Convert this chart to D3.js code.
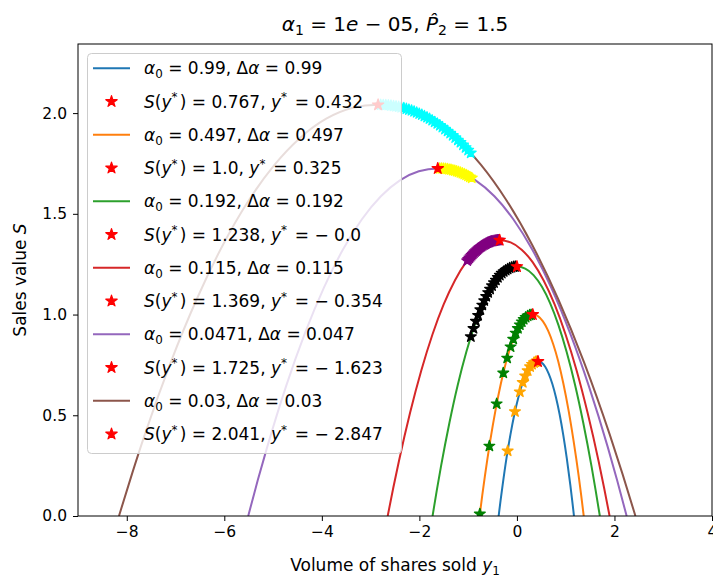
<!DOCTYPE html>
<html>
<head>
<meta charset="utf-8">
<script src="https://cdn.jsdelivr.net/npm/d3@7"></script>
<style>
  body { margin: 0; background: #fff; }
  svg { display: block; font-family: "DejaVu Sans", sans-serif; }
</style>
</head>
<body>
<svg id="chart" width="713" height="583"></svg>
<script>
// ---- data -----------------------------------------------------------------
// Sales value S against volume of shares sold y1, one curve per alpha setting.
const alpha0 = [0.99, 0.497, 0.192, 0.115, 0.0471, 0.03];
const deltaAlpha = [0.99, 0.497, 0.192, 0.115, 0.047, 0.03];
// optimum of each curve: S(y*) and y*
const optimumS = [0.767, 1.0, 1.238, 1.369, 1.725, 2.041];
const optimumY = [0.432, 0.325, -0.0, -0.354, -1.623, -2.847];

const curveBlue = [[-0.375,0],[-0.335,0.078],[-0.294,0.152],[-0.214,0.287],[-0.133,0.404],[-0.052,0.505],[0.029,0.588],[0.109,0.655],[0.190,0.706],[0.271,0.741],[0.351,0.761],[0.432,0.767],[0.506,0.761],[0.580,0.741],[0.653,0.706],[0.727,0.655],[0.801,0.588],[0.875,0.505],[0.949,0.404],[1.022,0.287],[1.096,0.152],[1.133,0.078],[1.170,0]];
const curveOrange = [[-0.765,0],[-0.711,0.102],[-0.656,0.199],[-0.547,0.374],[-0.438,0.527],[-0.329,0.658],[-0.220,0.767],[-0.111,0.854],[-0.002,0.920],[0.107,0.966],[0.216,0.992],[0.325,1.0],[0.430,0.992],[0.534,0.966],[0.639,0.920],[0.743,0.854],[0.848,0.767],[0.952,0.658],[1.057,0.527],[1.161,0.374],[1.266,0.199],[1.318,0.102],[1.370,0]];
const curveGreen = [[-1.730,0],[-1.644,0.126],[-1.557,0.246],[-1.384,0.463],[-1.211,0.653],[-1.038,0.814],[-0.865,0.949],[-0.692,1.057],[-0.519,1.139],[-0.346,1.196],[-0.173,1.228],[0,1.238],[0.170,1.228],[0.340,1.196],[0.510,1.139],[0.680,1.057],[0.850,0.949],[1.020,0.814],[1.190,0.653],[1.360,0.463],[1.530,0.246],[1.615,0.126],[1.700,0]];
const curveRed = [[-2.650,0],[-2.535,0.140],[-2.420,0.272],[-2.191,0.512],[-1.961,0.722],[-1.732,0.901],[-1.502,1.050],[-1.272,1.169],[-1.043,1.260],[-0.813,1.322],[-0.584,1.358],[-0.354,1.369],[-0.129,1.358],[0.097,1.322],[0.322,1.260],[0.548,1.169],[0.773,1.050],[0.998,0.901],[1.224,0.722],[1.449,0.512],[1.675,0.272],[1.787,0.140],[1.900,0]];
const curvePurple = [[-5.510,0],[-5.316,0.176],[-5.121,0.342],[-4.733,0.645],[-4.344,0.909],[-3.955,1.135],[-3.567,1.323],[-3.178,1.473],[-2.789,1.587],[-2.400,1.666],[-2.012,1.711],[-1.623,1.725],[-1.236,1.711],[-0.848,1.666],[-0.461,1.587],[-0.074,1.473],[0.314,1.323],[0.701,1.135],[1.088,0.909],[1.475,0.645],[1.863,0.342],[2.056,0.176],[2.250,0]];
const curveBrown = [[-8.160,0],[-7.894,0.208],[-7.629,0.405],[-7.097,0.764],[-6.566,1.076],[-6.035,1.343],[-5.504,1.565],[-4.972,1.743],[-4.441,1.878],[-3.910,1.972],[-3.378,2.025],[-2.847,2.041],[-2.319,2.025],[-1.792,1.972],[-1.264,1.878],[-0.736,1.743],[-0.209,1.565],[0.319,1.343],[0.847,1.076],[1.375,0.764],[1.902,0.405],[2.166,0.208],[2.430,0]];

// iterates visited on the way to each optimum
const starsOrange = [[-0.19,0.323],[-0.04,0.518],[0.06,0.616],[0.12,0.663],[0.17,0.695],[0.22,0.721],[0.27,0.741],[0.31,0.753],[0.35,0.761],[0.38,0.765],[0.41,0.767]];
const starsGreen = [[-0.76,0.010],[-0.565,0.347],[-0.415,0.557],[-0.28,0.710],[-0.20,0.784],[-0.13,0.840],[-0.075,0.878],[-0.025,0.908],[0.02,0.931],[0.06,0.949],[0.10,0.964],[0.14,0.976],[0.18,0.986],[0.22,0.993],[0.26,0.997],[0.29,0.999]];
const starsBlack = [[-0.945,0.890],[-0.89,0.931],[-0.84,0.967],[-0.795,0.996],[-0.75,1.024],[-0.71,1.047],[-0.67,1.069],[-0.63,1.090],[-0.59,1.109],[-0.55,1.126],[-0.51,1.143],[-0.47,1.158],[-0.43,1.171],[-0.39,1.184],[-0.35,1.195],[-0.31,1.205],[-0.27,1.213],[-0.23,1.220],[-0.19,1.226],[-0.15,1.231],[-0.11,1.234],[-0.07,1.237],[-0.035,1.238]];
const starsPurple = [[-1.020,1.267],[-0.997,1.274],[-0.974,1.281],[-0.951,1.288],[-0.928,1.294],[-0.905,1.300],[-0.882,1.306],[-0.859,1.312],[-0.836,1.317],[-0.813,1.322],[-0.790,1.327],[-0.767,1.332],[-0.744,1.336],[-0.721,1.340],[-0.698,1.344],[-0.675,1.347],[-0.652,1.350],[-0.630,1.353],[-0.607,1.356],[-0.584,1.358],[-0.561,1.360],[-0.538,1.362],[-0.515,1.364],[-0.492,1.365],[-0.469,1.366],[-0.446,1.367],[-0.423,1.368],[-0.400,1.369],[-0.377,1.369]];
const starsYellow = [[-1.584,1.725],[-1.546,1.725],[-1.507,1.724],[-1.468,1.723],[-1.429,1.722],[-1.391,1.720],[-1.352,1.719],[-1.313,1.716],[-1.274,1.714],[-1.236,1.711],[-1.197,1.708],[-1.158,1.705],[-1.119,1.701],[-1.081,1.697],[-1.042,1.693],[-1.003,1.688],[-0.965,1.683],[-0.926,1.678]];
const starsCyan = [[-2.794,2.041],[-2.741,2.040],[-2.689,2.040],[-2.636,2.039],[-2.583,2.037],[-2.530,2.035],[-2.478,2.033],[-2.425,2.031],[-2.372,2.028],[-2.319,2.025],[-2.267,2.021],[-2.214,2.017],[-2.161,2.013],[-2.108,2.008],[-2.055,2.003],[-2.003,1.997],[-1.950,1.992],[-1.897,1.985],[-1.844,1.979],[-1.792,1.972],[-1.739,1.964],[-1.686,1.956],[-1.633,1.948],[-1.581,1.939],[-1.528,1.930],[-1.475,1.920],[-1.422,1.911],[-1.369,1.900],[-1.317,1.889],[-1.264,1.878],[-1.211,1.866],[-1.158,1.855],[-1.106,1.842],[-1.053,1.829],[-1.000,1.816],[-0.947,1.802]];

const xTicks = [-8, -6, -4, -2, 0, 2, 4];
const yTicks = [0.0, 0.5, 1.0, 1.5, 2.0];

const curves = [curveBlue, curveOrange, curveGreen, curveRed, curvePurple, curveBrown];
const iterates = [starsOrange, starsGreen, starsBlack, starsPurple, starsYellow, starsCyan];
const lineColors = ["#1f77b4", "#ff7f0e", "#2ca02c", "#d62728", "#9467bd", "#8c564b"];
const iterateColors = ["orange", "green", "black", "purple", "yellow", "cyan"];

// ---- layout ---------------------------------------------------------------
const svg = d3.select("#chart");
const plot = { left: 78, right: 712, top: 44, bottom: 516 };
const x = d3.scaleLinear().domain([-9, 4]).range([plot.left, plot.right]);
const y = d3.scaleLinear().domain([0, 2.343]).range([plot.bottom, plot.top]);
const TICK_FS = 15.5;   // tick labels
const LABEL_FS = 17;    // axis titles and legend
const TITLE_FS = 20;

svg.append("defs").append("clipPath").attr("id", "plotClip")
  .append("rect")
  .attr("x", plot.left).attr("y", plot.top)
  .attr("width", plot.right - plot.left).attr("height", plot.bottom - plot.top);

// mathtext-like label: segments of [text, kind] where kind is "", "i", "sub", "sup"
function mathText(textSel, segs, fs) {
  let shift = 0;
  segs.forEach(([str, kind]) => {
    const ts = textSel.append("tspan").text(str);
    let target = 0;
    if (kind === "sub") target = 0.22 * fs;
    if (kind === "sup") target = -0.38 * fs;
    if (target !== shift) { ts.attr("dy", target - shift); shift = target; }
    if (kind === "sub" || kind === "sup") ts.attr("font-size", 0.7 * fs);
    if (kind === "i") ts.attr("font-style", "italic");
  });
}

function fmtNum(v) {
  const neg = v < 0 || Object.is(v, -0);
  let s = String(Math.abs(v));
  if (!s.includes(".")) s += ".0";
  return neg ? "\u2212 " + s : s;
}

// ---- marks ----------------------------------------------------------------
const marks = svg.append("g").attr("clip-path", "url(#plotClip)");
const line = d3.line().x(d => x(d[0])).y(d => y(d[1])).curve(d3.curveMonotoneX);
const starSmall = d3.symbol().type(d3.symbolStar).size(36);
const starBig = d3.symbol().type(d3.symbolStar).size(40);

curves.forEach((c, i) => {
  marks.append("path").datum(c)
    .attr("d", line)
    .attr("fill", "none")
    .attr("stroke", lineColors[i])
    .attr("stroke-width", 2);

  marks.append("g").selectAll("path").data(iterates[i]).join("path")
    .attr("d", starSmall)
    .attr("transform", d => `translate(${x(d[0])},${y(d[1])})`)
    .attr("fill", iterateColors[i])
    .attr("stroke", iterateColors[i])
    .attr("stroke-width", 1.3)
    .attr("stroke-linejoin", "round");

  marks.append("path")
    .attr("d", starBig)
    .attr("transform", `translate(${x(optimumY[i])},${y(optimumS[i])})`)
    .attr("fill", "red")
    .attr("stroke", "red")
    .attr("stroke-width", 1.2)
    .attr("stroke-linejoin", "round");
});

// ---- axes -----------------------------------------------------------------
const xAxis = svg.append("g").attr("transform", `translate(0,${plot.bottom})`)
  .call(d3.axisBottom(x).tickValues(xTicks).tickFormat(d3.format("d")).tickSize(5).tickPadding(5));
const yAxis = svg.append("g").attr("transform", `translate(${plot.left},0)`)
  .call(d3.axisLeft(y).tickValues(yTicks).tickFormat(d3.format(".1f")).tickSize(5).tickPadding(6));
[xAxis, yAxis].forEach(a => {
  a.select(".domain").remove();
  a.selectAll("text").attr("font-size", TICK_FS).attr("fill", "#000")
    .attr("font-family", "DejaVu Sans");
  a.selectAll("line").attr("stroke", "#000").attr("stroke-width", 1);
});

svg.append("rect")
  .attr("x", plot.left).attr("y", plot.top)
  .attr("width", plot.right - plot.left).attr("height", plot.bottom - plot.top)
  .attr("fill", "none").attr("stroke", "#000").attr("stroke-width", 1);

// axis titles
mathText(svg.append("text").attr("x", 395).attr("y", 571)
  .attr("text-anchor", "middle").attr("font-size", LABEL_FS),
  [["Volume of shares sold ", ""], ["y", "i"], ["1", "sub"]], LABEL_FS);

mathText(svg.append("text").attr("transform", "translate(26,280) rotate(-90)")
  .attr("text-anchor", "middle").attr("font-size", LABEL_FS),
  [["Sales value ", ""], ["S", "i"]], LABEL_FS);

// chart title
mathText(svg.append("text").attr("x", 395).attr("y", 31)
  .attr("text-anchor", "middle").attr("font-size", TITLE_FS),
  [["\u03b1", "i"], ["1", "sub"], [" = 1", ""], ["e", "i"], [" \u2212 05, ", ""],
   ["P\u0302", "i"], ["2", "sub"], [" = 1.5", ""]], TITLE_FS);

// ---- legend ---------------------------------------------------------------
const legend = svg.append("g");
legend.append("rect")
  .attr("x", 87.5).attr("y", 53.5).attr("width", 314).attr("height", 400)
  .attr("rx", 4).attr("ry", 4)
  .attr("fill", "rgba(255,255,255,0.8)")
  .attr("stroke", "#cccccc").attr("stroke-width", 1);

const rowY = i => 68.3 + i * 33.25;
alpha0.forEach((a, i) => {
  const r1 = rowY(2 * i), r2 = rowY(2 * i + 1);
  legend.append("line")
    .attr("x1", 93).attr("x2", 130).attr("y1", r1).attr("y2", r1)
    .attr("stroke", lineColors[i]).attr("stroke-width", 2);
  mathText(legend.append("text").attr("x", 144).attr("y", r1 + 6).attr("font-size", LABEL_FS),
    [["\u03b1", "i"], ["0", "sub"], [" = " + a + ", \u0394", ""], ["\u03b1", "i"], [" = " + deltaAlpha[i], ""]], LABEL_FS);

  legend.append("path")
    .attr("d", starBig)
    .attr("transform", `translate(111.5,${r2})`)
    .attr("fill", "red").attr("stroke", "red").attr("stroke-width", 1.2)
    .attr("stroke-linejoin", "round");
  mathText(legend.append("text").attr("x", 144).attr("y", r2 + 6).attr("font-size", LABEL_FS),
    [["S", "i"], ["(", ""], ["y", "i"], ["*\u2009", "sup"], [") = " + fmtNum(optimumS[i]) + ", ", ""],
     ["y", "i"], ["*\u2009", "sup"], [" = " + fmtNum(optimumY[i]), ""]], LABEL_FS);
});
</script>
</body>
</html>
